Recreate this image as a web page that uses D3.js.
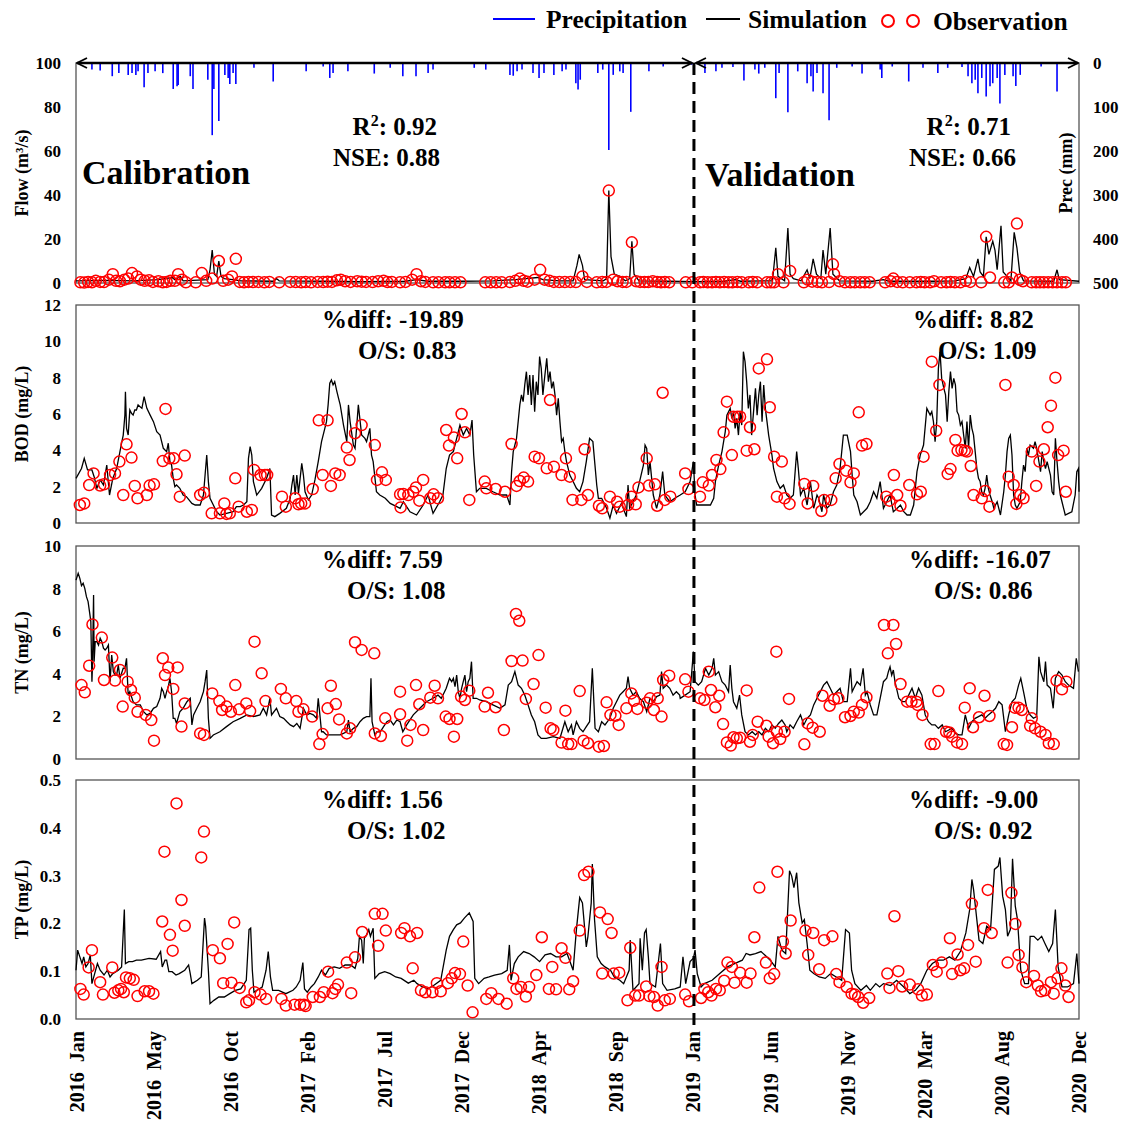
<!DOCTYPE html>
<html>
<head>
<meta charset="utf-8">
<script src="https://cdn.jsdelivr.net/npm/d3@7"></script>
<style>
  body { margin: 0; background: #fff; }
  svg text { font-family: "Liberation Serif", "Times New Roman", serif; font-weight: bold; fill: #000; }
</style>
</head>
<body>
<div id="chart"></div>
<script>
// all series are [day since 2016-01-01, value]
var xTickLabels = ["2016  Jan", "2016  May", "2016  Oct", "2017  Feb", "2017  Jul", "2017  Dec", "2018  Apr",
  "2018  Sep", "2019  Jan", "2019  Jun", "2019  Nov", "2020  Mar", "2020  Aug", "2020  Dec"];
var tickStepDays = 140.4;
var lastDay = 1826;
var splitDay = 1125; // calibration | validation

// daily precipitation (mm)
var precip = [[29,15],[44,17],[66,30],[78,23],[95,27],[102,23],[109,27],[113,19],[124,55],[131,23],[144,19],[158,23],
  [177,59],[184,53],[186,50],[208,30],[213,59],[240,38],[248,164],[251,59],[260,132],[271,27],[277,34],[280,48],
  [286,23],[291,48],[324,11],[359,42],[419,19],[450,8],[462,34],[468,23],[495,19],[543,24],[572,11],[595,30],
  [619,30],[641,23],[650,15],[725,11],[746,15],[790,27],[796,29],[803,19],[812,15],[832,23],[843,34],[852,23],
  [870,27],[885,19],[892,15],[910,46],[914,60],[918,38],[950,23],[959,15],[970,198],[978,27],[990,19],[996,23],
  [1010,111],[1043,19],[1069,8],[1121,4],[1145,23],[1165,19],[1176,11],[1196,9],[1216,40],[1236,15],[1243,24],
  [1254,11],[1274,80],[1280,23],[1296,112],[1314,19],[1331,46],[1338,30],[1342,65],[1349,23],[1360,69],[1371,130],
  [1385,11],[1413,8],[1431,24],[1464,15],[1467,34],[1486,8],[1516,42],[1542,11],[1569,23],[1587,11],[1613,9],
  [1624,30],[1631,46],[1637,38],[1642,69],[1649,34],[1657,76],[1664,53],[1669,46],[1677,34],[1682,92],[1691,27],
  [1706,30],[1711,52],[1719,27],[1757,8],[1786,65]];

// flow (m3/s)
var flowSim = [[0,1],[60,1.2],[105,1],[150,1.5],[175,2.5],[180,1.5],[190,3],[195,1],[240,1.5],[244,6],[248,15],[252,4],
  [256,3],[260,10],[264,3],[270,2],[285,1.5],[300,1],[360,0.8],[365,2],[370,1],[450,0.8],[520,0.6],[600,0.8],[620,1.5],
  [640,0.8],[700,0.8],[760,1],[800,1.5],[820,2],[840,2.5],[850,1.5],[880,1],[905,1],[912,8],[916,13],[922,8],[926,1.5],
  [960,1],[966,2],[970,42],[974,12],[980,4],[990,3],[1000,1],[1008,2],[1012,19],[1016,4],[1025,1],[1080,0.8],[1126,0.6],
  [1180,0.8],[1200,1.5],[1210,0.8],[1268,1],[1274,16],[1278,3],[1290,1],[1296,25],[1300,4],[1306,2],[1320,1],[1331,6],
  [1336,2],[1342,11],[1348,4],[1356,2],[1360,15],[1365,4],[1373,25],[1378,4],[1390,1],[1450,0.8],[1470,1.5],[1480,0.8],
  [1560,0.8],[1600,1],[1620,2],[1627,7],[1634,3],[1642,11],[1646,5],[1652,3],[1657,21],[1662,13],[1669,19],[1673,15],
  [1677,6],[1684,26],[1688,5],[1695,3],[1702,1],[1708,23],[1713,16],[1718,5],[1725,1],[1780,0.8],[1786,6],[1790,1.5],[1826,0.8]];
var flowObs = [[8,0.3],[15,0.2],[22,0.5],[29,0.3],[36,1],[44,0.5],[51,0.4],[60,1.5],[67,4],[73,1],[80,0.8],[88,1.5],
  [95,2],[102,4.5],[111,3],[118,1.5],[125,1],[133,1.2],[140,0.5],[150,0.8],[158,0.3],[165,0.5],[172,1],[180,1],[186,4],
  [193,1.5],[200,0.3],[218,0.3],[229,4.5],[237,1],[248,2],[260,10],[268,1],[277,1.5],[284,3],[291,11],[298,0.5],[306,0.3],
  [314,0.5],[322,0.4],[332,0.5],[343,0.3],[352,0.5],[370,0.3],[390,0.5],[400,0.4],[410,0.3],[418,0.4],[428,0.3],[440,0.5],
  [450,0.4],[458,0.6],[466,0.5],[475,1.2],[482,1.5],[490,0.8],[500,0.5],[512,0.8],[520,0.6],[528,0.5],[540,0.4],[550,0.8],
  [560,1],[567,0.4],[575,0.5],[590,0.3],[600,0.5],[612,1.5],[620,4],[628,0.8],[636,0.5],[650,0.3],[660,0.3],[672,0.3],
  [680,0.3],[690,0.3],[700,0.3],[745,0.3],[755,0.3],[765,0.3],[775,0.3],[790,0.4],[800,1],[808,2],[815,1],[822,0.6],
  [835,1.5],[845,6],[853,1.5],[862,1],[870,0.5],[880,0.4],[890,0.4],[900,0.5],[910,0.4],[922,3],[930,0.5],[948,0.3],
  [958,0.4],[966,0.5],[970,42],[978,1.5],[986,0.8],[995,0.5],[1002,0.5],[1012,18.5],[1020,0.8],[1027,0.5],[1035,0.4],
  [1042,0.4],[1050,0.8],[1058,0.5],[1065,0.3],[1072,0.4],[1080,0.3],[1110,0.3],[1122,0.3],[1136,0.3],[1142,0.4],
  [1150,0.3],[1158,0.3],[1165,0.5],[1172,0.3],[1180,0.4],[1188,0.3],[1195,0.3],[1204,0.4],[1212,0.3],[1225,0.3],
  [1232,0.5],[1240,0.3],[1258,0.3],[1265,0.3],[1271,0.3],[1278,4],[1288,0.3],[1300,5.5],[1325,0.3],[1332,1.5],[1340,0.6],
  [1350,0.5],[1358,0.3],[1371,0.4],[1378,8.5],[1380,4],[1390,0.8],[1400,0.3],[1410,0.3],[1418,0.3],[1428,0.3],[1436,0.3],
  [1445,0.3],[1473,0.3],[1483,0.8],[1488,2],[1495,0.5],[1505,0.3],[1518,0.3],[1530,0.3],[1538,0.4],[1545,0.3],[1555,0.3],
  [1562,0.8],[1575,0.3],[1585,0.3],[1592,0.4],[1600,0.3],[1610,0.3],[1620,1],[1628,0.5],[1648,0.3],[1657,21],[1664,2.5],
  [1690,0.3],[1698,0.3],[1704,2.5],[1713,27],[1718,1.5],[1724,0.8],[1740,0.3],[1748,0.3],[1755,0.3],[1762,0.3],[1770,0.3],
  [1778,0.3],[1786,0.3],[1795,0.3],[1802,0.3]];

// BOD (mg/L)
var bodSim = [[0,2.46],[10,3.0],[15,3.56],[21,2.92],[29,2.92],[33,2.55],[38,1.91],[44,2.37],[50,2.09],[56,3.19],[61,1.54],
  [67,2.46],[74,3.0],[80,3.93],[83,4.39],[86,4.84],[89,5.94],[90,7.23],[92,5.21],[95,4.84],[98,6.22],[101,6.04],[104,5.94],
  [107,6.22],[110,6.22],[113,6.5],[120,6.31],[124,6.95],[129,6.31],[135,5.94],[141,5.58],[147,5.03],[153,4.84],[159,4.11],
  [165,3.93],[168,4.39],[171,3.38],[174,3.19],[177,2.46],[180,2.0],[183,2.09],[189,1.91],[195,1.54],[201,1.45],[211,1.08],
  [217,0.99],[226,0.99],[232,1.54],[235,2.64],[238,3.74],[241,2.28],[244,1.36],[250,0.99],[256,0.62],[262,0.44],[274,0.53],
  [286,0.62],[292,0.9],[299,0.9],[305,0.99],[311,1.17],[314,3.56],[317,4.2],[320,3.74],[323,2.28],[329,1.54],[338,1.91],
  [347,2.46],[353,3.0],[356,0.44],[362,0.35],[371,0.53],[383,0.81],[390,1.36],[393,2.09],[396,2.64],[399,1.54],[402,2.64],
  [405,1.63],[411,3.28],[414,2.64],[417,1.72],[423,1.27],[429,1.54],[435,2.37],[441,3.38],[447,4.48],[453,5.21],[456,5.58],
  [459,6.5],[462,7.69],[465,7.87],[468,7.6],[471,7.78],[475,7.23],[478,6.86],[481,6.5],[487,5.39],[493,4.48],[496,6.5],
  [499,5.58],[505,4.29],[508,4.11],[514,6.5],[520,4.84],[526,4.66],[529,4.48],[535,5.21],[538,3.74],[541,3.38],[547,1.72],
  [553,1.54],[563,1.36],[572,1.08],[584,0.9],[590,0.81],[596,1.17],[608,0.62],[620,0.44],[632,0.99],[641,1.54],[650,0.53],
  [662,1.17],[668,1.54],[674,3.0],[680,3.74],[687,3.93],[693,4.66],[699,5.39],[705,4.84],[711,5.21],[717,4.84],[721,5.67],
  [724,3.74],[729,1.72],[735,1.91],[747,1.91],[759,1.72],[772,1.54],[784,1.54],[790,0.99],[793,2.83],[796,3.93],[802,4.66],
  [808,6.5],[811,7.05],[814,6.68],[817,7.6],[820,8.33],[823,7.05],[826,8.15],[829,6.5],[832,8.15],[835,6.13],[838,7.78],
  [841,7.05],[844,9.16],[847,8.51],[850,7.05],[853,7.96],[857,9.06],[860,7.78],[863,8.33],[866,7.41],[869,7.78],[872,7.05],
  [875,5.94],[878,6.86],[881,5.58],[884,4.48],[887,4.66],[890,3.93],[893,3.38],[899,2.64],[905,2.28],[911,1.91],[917,1.72],
  [923,2.28],[929,3.38],[935,4.66],[941,4.48],[948,2.09],[951,1.36],[957,1.36],[966,0.81],[972,0.26],[978,0.99],[984,0.53],
  [993,1.08],[1002,0.35],[1005,2.09],[1008,0.81],[1014,1.17],[1020,1.54],[1026,2.28],[1033,3.19],[1036,4.29],[1039,4.11],
  [1042,2.64],[1045,3.38],[1051,1.54],[1057,0.81],[1063,1.54],[1068,2.83],[1072,1.54],[1081,1.17],[1090,1.36],
  [1100,1.54],[1109,1.72],[1118,2.28],[1124,3.38],[1127,1.54],[1130,0.99],[1142,0.99],[1155,0.99],[1161,1.36],[1164,2.28],
  [1170,3.19],[1176,3.93],[1182,5.03],[1185,5.94],[1191,6.31],[1194,5.76],[1197,6.13],[1200,5.21],[1203,5.76],[1206,4.84],
  [1209,6.13],[1212,5.39],[1215,9.43],[1218,8.88],[1221,7.78],[1224,6.31],[1227,7.05],[1230,4.84],[1234,6.31],[1237,7.41],
  [1240,5.94],[1243,7.05],[1246,7.78],[1249,5.58],[1252,7.6],[1255,6.31],[1258,5.58],[1261,4.84],[1264,4.29],[1267,3.74],
  [1270,3.0],[1276,2.28],[1282,1.91],[1288,2.09],[1294,1.54],[1300,1.36],[1306,1.54],[1312,3.93],[1315,3.0],[1319,1.54],
  [1325,1.91],[1331,0.99],[1337,2.28],[1343,0.81],[1349,1.54],[1352,1.36],[1358,0.62],[1361,1.54],[1367,0.81],[1373,0.99],
  [1379,1.72],[1385,2.09],[1391,3.0],[1397,4.84],[1404,4.84],[1410,3.93],[1413,2.64],[1416,1.54],[1422,1.17],[1428,0.44],
  [1440,0.81],[1446,1.17],[1452,1.72],[1458,1.36],[1464,2.28],[1470,0.81],[1476,1.17],[1482,1.54],[1488,0.62],[1495,0.81],
  [1501,0.99],[1507,0.62],[1513,0.44],[1519,0.44],[1525,0.99],[1531,2.83],[1537,3.74],[1543,4.29],[1549,6.31],[1555,5.94],
  [1558,6.13],[1561,5.58],[1564,4.48],[1567,5.58],[1570,8.51],[1573,9.43],[1576,7.96],[1580,7.41],[1583,7.05],[1586,5.58],
  [1589,7.23],[1592,8.33],[1595,7.41],[1598,7.96],[1601,7.6],[1604,6.13],[1607,5.94],[1610,5.39],[1613,5.58],[1616,4.84],
  [1619,4.11],[1622,5.58],[1625,4.11],[1628,5.94],[1631,5.21],[1634,4.84],[1637,3.93],[1640,3.0],[1643,2.46],[1646,2.28],
  [1649,1.72],[1652,1.54],[1655,1.91],[1658,2.64],[1661,1.91],[1664,1.54],[1668,1.17],[1671,0.81],[1674,0.99],[1677,1.17],
  [1680,0.81],[1683,0.44],[1689,1.72],[1692,2.64],[1695,3.93],[1698,4.66],[1701,4.84],[1704,3.74],[1707,1.54],[1710,0.99],
  [1713,0.81],[1719,1.17],[1722,2.28],[1725,3.19],[1728,2.83],[1731,4.11],[1734,3.74],[1737,4.29],[1743,4.11],[1746,4.48],
  [1749,4.11],[1756,2.83],[1759,3.93],[1762,3.38],[1765,3.0],[1768,3.38],[1774,2.64],[1777,1.72],[1780,1.54],[1783,4.66],
  [1786,3.38],[1789,2.28],[1792,1.54],[1795,1.17],[1798,0.81],[1801,0.44],[1807,0.53],[1813,0.62],[1819,1.54],[1822,2.83],
  [1825,3.0],[1826,1.72]];
var bodObs = [[7,0.99],[15,1.08],[24,2.09],[32,2.73],[44,2.06],[51,2.13],[62,2.64],[71,2.73],[79,3.38],[86,1.54],[92,4.33],
  [101,3.6],[107,2.04],[112,1.36],[129,1.54],[134,2.06],[142,2.13],[158,3.41],[163,6.28],[170,3.56],[178,3.56],[183,2.68],
  [189,1.45],[198,3.71],[226,1.54],[233,1.67],[247,0.53],[262,0.53],[270,1.08],[274,0.5],[280,0.53],[290,2.46],[296,0.9],
  [311,0.62],[320,0.72],[324,2.92],[336,2.64],[344,2.64],[348,2.64],[375,1.45],[382,0.9],[399,1.36],[405,1.03],[410,1.08],
  [417,1.08],[431,1.87],[442,5.65],[449,2.64],[458,5.65],[464,2.04],[472,2.73],[480,2.64],[493,4.15],[498,3.47],[508,4.94],
  [520,5.39],[544,4.29],[548,2.37],[557,2.79],[564,2.37],[590,1.58],[591,0.86],[596,1.6],[605,1.54],[614,1.72],[619,1.96],
  [625,1.23],[632,2.37],[645,1.36],[651,1.58],[659,1.36],[674,5.12],[679,4.26],[688,4.7],[694,3.56],[702,6.0],[708,4.99],
  [716,1.27],[744,2.28],[747,1.91],[764,1.87],[781,1.72],[793,4.35],[802,2.04],[808,2.31],[815,2.5],[823,2.28],[835,3.65],
  [843,3.56],[857,3.01],[863,6.77],[870,3.1],[884,2.64],[892,3.56],[899,2.55],[904,1.27],[920,1.27],[926,4.06],[932,1.54],
  [952,0.95],[958,0.81],[972,1.45],[985,1.17],[990,0.9],[1005,0.99],[1011,1.45],[1019,1.03],[1024,1.96],[1039,3.56],
  [1043,2.06],[1054,2.13],[1058,0.95],[1068,7.17],[1072,1.27],[1082,1.45],[1109,2.73],[1115,1.87],[1136,1.45],[1141,2.24],
  [1152,2.06],[1158,2.64],[1166,3.47],[1173,2.97],[1179,4.99],[1185,6.68],[1194,3.74],[1197,5.85],[1204,5.85],[1209,5.85],
  [1221,3.98],[1227,5.27],[1235,4.06],[1243,8.51],[1258,9.01],[1263,6.37],[1271,3.65],[1276,1.45],[1285,3.38],[1290,1.36],
  [1299,1.05],[1326,2.15],[1332,1.08],[1342,2.04],[1357,0.66],[1362,1.27],[1375,1.27],[1383,2.46],[1390,3.25],[1402,2.88],
  [1410,2.24],[1416,2.73],[1425,6.09],[1431,4.26],[1439,4.35],[1475,1.45],[1481,1.23],[1489,2.64],[1495,1.54],[1501,0.95],
  [1517,2.09],[1531,1.58],[1538,1.72],[1543,3.65],[1558,8.88],[1566,5.08],[1572,7.6],[1587,2.7],[1592,2.97],[1601,4.57],
  [1605,3.98],[1612,4.02],[1618,3.98],[1622,3.93],[1629,3.14],[1634,1.54],[1649,1.36],[1655,1.76],[1663,0.9],[1692,7.6],
  [1698,2.55],[1707,2.09],[1712,1.05],[1719,1.54],[1725,1.36],[1740,3.93],[1748,2.04],[1754,3.38],[1762,4.06],[1769,5.27],
  [1775,6.46],[1783,8.0],[1788,3.74],[1798,3.98],[1802,1.72]];

// TN (mg/L)
var tnSim = [[0,8.4],[4,8.72],[7,8.48],[10,8.14],[13,8.25],[16,8.01],[19,7.62],[22,7.39],[25,6.84],[27,6.45],[29,3.63],
  [30,4.41],[32,7.7],[33,4.57],[35,5.51],[38,5.51],[41,5.35],[44,5.67],[47,5.51],[50,5.2],[53,5.12],[56,5.2],[59,5.35],
  [62,3.63],[65,4.88],[68,4.1],[71,3.94],[74,3.94],[77,4.41],[80,3.79],[86,4.26],[89,4.26],[92,4.73],[95,3.0],[98,3.16],
  [104,2.69],[110,2.54],[117,2.54],[123,2.22],[129,2.07],[135,2.14],[141,2.38],[147,2.46],[153,2.85],[156,3.32],[159,3.16],
  [162,2.85],[165,3.16],[168,3.4],[171,3.79],[174,3.16],[177,1.91],[180,1.91],[183,1.67],[189,2.22],[195,2.38],[202,2.69],
  [208,2.85],[211,1.6],[214,2.07],[220,2.38],[226,2.69],[232,3.16],[235,3.63],[238,4.18],[241,1.91],[244,0.97],[250,1.13],
  [262,1.28],[274,1.52],[286,1.75],[299,1.91],[311,2.07],[323,1.99],[335,2.07],[341,2.38],[347,2.07],[353,2.85],[356,2.07],
  [365,2.38],[371,1.99],[378,1.91],[384,1.75],[390,1.6],[396,1.52],[402,1.67],[408,1.44],[414,2.38],[420,2.07],[426,2.14],
  [432,2.07],[438,1.91],[441,2.85],[444,2.07],[447,1.28],[450,1.28],[456,1.13],[469,1.13],[481,1.13],[493,1.28],[496,1.83],
  [499,1.28],[505,1.44],[511,1.52],[517,1.75],[523,1.91],[529,1.99],[535,1.99],[537,3.79],[539,1.75],[544,1.13],[548,1.28],
  [554,1.28],[560,1.52],[566,1.75],[572,1.83],[578,1.6],[584,1.83],[590,1.75],[595,1.28],[602,1.6],[614,2.07],[626,2.38],
  [638,2.69],[650,2.85],[659,3.0],[665,2.85],[671,3.16],[674,3.32],[680,3.79],[684,3.63],[687,3.79],[690,3.4],[693,3.94],
  [696,3.16],[699,2.85],[702,3.32],[705,3.63],[708,3.94],[711,3.16],[714,3.63],[717,3.79],[720,4.57],[723,2.85],[729,2.85],
  [735,2.77],[747,2.69],[759,2.54],[772,2.38],[781,2.54],[787,3.47],[793,3.63],[799,4.1],[805,3.47],[811,3.32],[817,3.0],
  [823,2.54],[829,2.07],[835,1.75],[841,1.13],[847,0.97],[856,0.97],[869,1.05],[881,0.97],[890,1.75],[896,1.28],[902,1.6],
  [905,1.13],[911,1.75],[917,1.44],[923,1.28],[929,1.52],[935,1.75],[940,4.26],[945,1.44],[951,1.28],[957,1.75],[963,1.6],
  [972,1.91],[978,2.38],[984,2.69],[990,3.0],[996,3.16],[1002,3.32],[1005,3.87],[1008,3.32],[1014,3.0],[1020,3.16],
  [1026,2.85],[1033,2.69],[1039,2.22],[1045,2.85],[1051,2.69],[1057,2.93],[1063,3.0],[1066,4.1],[1069,3.32],[1075,3.47],
  [1081,3.32],[1087,3.0],[1093,3.16],[1099,3.0],[1100,2.85],[1109,3.0],[1118,3.16],[1124,5.04],[1127,3.63],[1133,3.47],
  [1139,3.63],[1146,4.26],[1152,3.94],[1158,4.26],[1161,4.73],[1164,3.94],[1170,4.1],[1176,3.63],[1182,3.47],[1188,3.16],
  [1191,4.41],[1194,3.32],[1197,2.69],[1203,2.38],[1208,3.0],[1212,2.07],[1218,1.28],[1224,1.13],[1231,1.28],[1237,1.13],
  [1243,1.28],[1249,1.13],[1255,1.44],[1261,1.28],[1267,1.6],[1273,1.44],[1279,1.67],[1285,1.83],[1291,1.6],[1294,1.28],
  [1300,1.6],[1306,1.44],[1312,1.75],[1319,2.07],[1325,1.6],[1331,1.91],[1337,2.07],[1343,2.54],[1349,2.85],[1355,3.16],
  [1361,3.47],[1367,3.63],[1373,3.32],[1379,3.0],[1385,3.16],[1391,3.32],[1397,2.69],[1404,2.69],[1410,4.26],[1413,3.16],
  [1416,3.32],[1422,3.63],[1428,3.47],[1433,4.26],[1437,3.0],[1440,3.16],[1446,2.54],[1452,2.07],[1458,2.07],[1464,2.85],
  [1470,3.63],[1476,3.79],[1479,4.1],[1482,4.33],[1485,3.94],[1488,4.18],[1491,3.63],[1498,2.85],[1504,2.69],[1510,2.69],
  [1516,3.0],[1522,3.32],[1528,2.85],[1534,3.32],[1540,3.0],[1546,2.07],[1552,1.75],[1558,1.6],[1564,1.6],[1570,1.44],
  [1577,1.6],[1583,1.28],[1589,1.36],[1595,1.44],[1601,1.2],[1607,1.13],[1613,1.13],[1619,2.07],[1625,1.44],[1631,1.75],
  [1637,1.91],[1643,1.99],[1649,2.07],[1655,1.91],[1661,2.07],[1668,2.22],[1674,2.38],[1680,2.69],[1686,2.54],[1692,1.28],
  [1698,2.07],[1704,2.69],[1710,2.85],[1716,3.47],[1720,3.79],[1725,3.16],[1731,2.38],[1737,2.07],[1743,1.91],[1749,1.99],
  [1753,4.8],[1756,4.1],[1762,3.63],[1765,4.57],[1768,3.47],[1774,3.32],[1779,2.38],[1783,3.79],[1789,4.1],[1795,3.94],
  [1801,3.63],[1807,3.47],[1816,3.32],[1821,4.73],[1825,4.1]];
var tnObs = [[10,3.47],[16,3.13],[24,4.38],[30,6.32],[47,5.7],[51,3.71],[66,4.76],[71,3.68],[80,4.18],[85,2.46],[94,3.63],
  [100,3.24],[107,2.88],[112,2.22],[127,2.07],[137,1.83],[142,0.86],[158,4.73],[162,3.94],[168,4.29],[177,3.29],[185,4.3],
  [192,1.52],[198,2.61],[226,1.2],[233,1.13],[248,3.08],[261,2.72],[266,2.3],[274,2.46],[282,2.22],[290,3.47],[297,2.33],
  [310,2.61],[317,2.25],[325,5.51],[338,4.02],[345,2.72],[373,3.29],[382,2.85],[401,2.72],[405,2.22],[414,2.33],[430,1.99],
  [443,0.7],[449,1.17],[458,2.38],[464,3.44],[473,2.58],[479,1.86],[493,1.2],[499,1.44],[508,5.48],[520,5.12],[543,4.96],
  [544,1.2],[555,1.08],[563,1.91],[590,2.1],[590,3.16],[603,0.86],[609,1.6],[619,3.47],[625,2.57],[632,1.36],[645,2.88],
  [653,3.44],[659,2.85],[673,1.99],[680,1.88],[688,1.05],[694,1.88],[701,2.93],[708,2.77],[716,3.21],[744,2.46],[750,3.11],
  [764,2.43],[779,1.36],[793,4.6],[801,6.81],[807,6.49],[813,4.62],[819,2.82],[833,3.52],[842,4.88],[855,2.41],[864,1.44],
  [869,1.36],[884,0.77],[891,2.27],[896,0.7],[902,0.7],[917,3.19],[924,0.86],[932,0.74],[952,0.58],[961,0.61],[966,2.66],
  [973,2.07],[982,2.03],[988,1.6],[1002,2.38],[1011,3.08],[1016,2.74],[1022,2.35],[1039,2.64],[1045,2.85],[1052,2.3],
  [1059,2.85],[1066,1.99],[1069,3.71],[1080,3.91],[1109,3.74],[1115,3.16],[1136,2.85],[1144,2.77],[1152,4.1],[1156,3.24],
  [1164,2.43],[1171,2.97],[1178,1.64],[1185,0.78],[1192,0.63],[1197,1.02],[1203,0.97],[1209,1.0],[1221,3.22],[1227,0.81],
  [1232,1.13],[1241,1.75],[1257,1.56],[1261,1.05],[1269,0.74],[1275,5.04],[1276,1.28],[1282,0.94],[1290,1.28],[1298,2.82],
  [1326,0.69],[1332,1.67],[1341,1.47],[1354,1.28],[1359,2.97],[1372,2.5],[1380,2.8],[1388,2.85],[1400,1.96],[1410,2.02],
  [1416,2.22],[1425,2.18],[1431,2.54],[1439,2.9],[1471,6.29],[1478,4.96],[1488,6.29],[1493,5.4],[1501,3.52],[1513,2.69],
  [1521,2.69],[1530,2.69],[1532,2.54],[1541,2.07],[1556,0.7],[1563,0.7],[1570,3.19],[1584,1.28],[1590,1.25],[1595,1.05],
  [1604,0.78],[1613,0.7],[1618,2.41],[1627,3.32],[1633,1.49],[1644,1.96],[1654,2.97],[1663,2.02],[1689,0.7],[1695,0.66],
  [1704,1.49],[1709,2.41],[1716,2.41],[1722,2.3],[1737,1.56],[1740,1.91],[1746,1.44],[1756,1.28],[1765,1.13],[1771,0.74],
  [1780,0.7],[1785,3.68],[1795,3.27],[1803,3.63]];

// TP (mg/L)
var tpSim = [[0,0.102],[3,0.144],[7,0.13],[11,0.116],[14,0.13],[18,0.109],[22,0.116],[26,0.134],[29,0.074],[34,0.095],
  [39,0.116],[44,0.102],[51,0.092],[57,0.102],[62,0.088],[67,0.095],[77,0.102],[83,0.109],[88,0.229],[90,0.116],[96,0.12],
  [103,0.12],[110,0.123],[119,0.123],[133,0.127],[146,0.125],[154,0.141],[157,0.109],[162,0.123],[165,0.123],[169,0.099],
  [175,0.099],[182,0.092],[188,0.095],[198,0.102],[205,0.113],[208,0.095],[211,0.074],[221,0.081],[228,0.088],[234,0.211],
  [236,0.194],[241,0.102],[244,0.032],[251,0.039],[260,0.046],[270,0.046],[280,0.053],[290,0.06],[300,0.063],[310,0.081],
  [315,0.187],[318,0.19],[321,0.102],[324,0.056],[329,0.06],[339,0.067],[346,0.102],[350,0.141],[354,0.088],[358,0.06],
  [369,0.06],[382,0.053],[395,0.06],[401,0.067],[408,0.081],[413,0.118],[416,0.063],[421,0.056],[428,0.067],[434,0.074],
  [441,0.088],[447,0.102],[454,0.092],[461,0.106],[470,0.109],[480,0.106],[490,0.113],[500,0.113],[508,0.106],[513,0.127],
  [516,0.173],[520,0.165],[523,0.116],[525,0.169],[529,0.176],[533,0.187],[536,0.173],[541,0.19],[544,0.085],[552,0.095],
  [562,0.099],[572,0.095],[582,0.088],[592,0.085],[605,0.075],[615,0.081],[621,0.074],[631,0.067],[641,0.063],[651,0.07],
  [664,0.081],[674,0.144],[680,0.173],[687,0.187],[693,0.197],[700,0.201],[707,0.211],[716,0.222],[723,0.204],[726,0.085],
  [733,0.074],[743,0.085],[752,0.088],[762,0.092],[775,0.095],[785,0.102],[789,0.155],[792,0.081],[798,0.116],[805,0.13],
  [815,0.141],[825,0.137],[834,0.13],[844,0.12],[854,0.134],[864,0.137],[874,0.13],[884,0.13],[894,0.137],[905,0.102],
  [911,0.187],[917,0.254],[922,0.243],[929,0.151],[932,0.173],[938,0.243],[940,0.324],[944,0.208],[949,0.13],[956,0.116],
  [963,0.109],[973,0.102],[980,0.088],[990,0.081],[997,0.074],[1007,0.102],[1009,0.165],[1014,0.06],[1025,0.074],
  [1027,0.169],[1031,0.102],[1035,0.18],[1038,0.187],[1042,0.13],[1045,0.074],[1055,0.067],[1064,0.158],[1068,0.074],
  [1076,0.06],[1090,0.063],[1100,0.067],[1105,0.13],[1110,0.074],[1118,0.12],[1124,0.127],[1127,0.144],[1131,0.095],
  [1138,0.067],[1144,0.074],[1158,0.081],[1172,0.095],[1186,0.109],[1199,0.116],[1213,0.123],[1220,0.137],[1227,0.134],
  [1237,0.137],[1247,0.141],[1254,0.134],[1264,0.123],[1273,0.109],[1278,0.173],[1285,0.144],[1292,0.137],[1299,0.31],
  [1303,0.299],[1307,0.275],[1312,0.306],[1316,0.243],[1322,0.201],[1326,0.208],[1331,0.158],[1336,0.102],[1343,0.095],
  [1353,0.088],[1364,0.085],[1374,0.095],[1384,0.088],[1394,0.081],[1401,0.187],[1408,0.18],[1412,0.102],[1418,0.074],
  [1429,0.06],[1439,0.07],[1446,0.06],[1456,0.074],[1463,0.067],[1470,0.074],[1483,0.07],[1494,0.081],[1507,0.067],
  [1518,0.053],[1528,0.06],[1538,0.074],[1549,0.102],[1559,0.116],[1569,0.123],[1579,0.123],[1590,0.13],[1600,0.123],
  [1610,0.141],[1620,0.18],[1627,0.229],[1631,0.292],[1634,0.271],[1638,0.229],[1644,0.165],[1651,0.158],[1658,0.194],
  [1665,0.187],[1672,0.313],[1679,0.32],[1682,0.338],[1687,0.257],[1692,0.229],[1696,0.173],[1701,0.187],[1705,0.335],
  [1710,0.236],[1714,0.208],[1720,0.102],[1727,0.074],[1734,0.074],[1737,0.173],[1744,0.173],[1751,0.165],[1758,0.173],
  [1764,0.158],[1771,0.141],[1778,0.158],[1783,0.229],[1788,0.109],[1795,0.067],[1805,0.067],[1816,0.074],[1822,0.137],
  [1826,0.074]];
var tpObs = [[8,0.063],[14,0.051],[23,0.108],[29,0.144],[44,0.077],[49,0.051],[66,0.108],[70,0.055],[77,0.06],[82,0.063],
  [87,0.056],[91,0.087],[98,0.085],[105,0.082],[112,0.048],[125,0.058],[133,0.058],[141,0.053],[157,0.204],[161,0.35],
  [171,0.176],[176,0.143],[183,0.451],[192,0.249],[198,0.195],[228,0.338],[233,0.392],[249,0.144],[262,0.127],[268,0.075],
  [276,0.157],[283,0.076],[288,0.202],[298,0.065],[310,0.035],[315,0.039],[325,0.056],[336,0.051],[346,0.042],[374,0.042],
  [382,0.028],[398,0.03],[408,0.03],[415,0.03],[418,0.027],[431,0.046],[444,0.046],[451,0.056],[459,0.099],[467,0.054],
  [472,0.063],[477,0.072],[493,0.118],[501,0.054],[508,0.129],[521,0.182],[544,0.22],[550,0.153],[558,0.22],[564,0.185],
  [592,0.18],[598,0.19],[608,0.173],[613,0.106],[621,0.18],[628,0.06],[636,0.056],[649,0.056],[657,0.075],[664,0.058],
  [677,0.075],[684,0.085],[690,0.096],[699,0.094],[705,0.162],[713,0.07],[722,0.014],[747,0.042],[756,0.054],[769,0.042],
  [784,0.032],[796,0.085],[802,0.063],[810,0.067],[819,0.047],[825,0.067],[838,0.092],[848,0.171],[861,0.063],[867,0.109],
  [874,0.062],[884,0.148],[891,0.128],[898,0.062],[905,0.079],[917,0.185],[925,0.301],[933,0.308],[954,0.223],[958,0.095],
  [968,0.209],[975,0.18],[979,0.095],[989,0.097],[1004,0.039],[1009,0.149],[1018,0.049],[1025,0.049],[1038,0.068],
  [1044,0.048],[1052,0.046],[1059,0.028],[1066,0.109],[1072,0.039],[1081,0.042],[1109,0.051],[1116,0.037],[1138,0.044],
  [1144,0.063],[1151,0.056],[1157,0.049],[1165,0.063],[1172,0.06],[1180,0.08],[1186,0.118],[1194,0.109],[1199,0.076],
  [1209,0.097],[1221,0.076],[1228,0.095],[1235,0.171],[1244,0.275],[1256,0.118],[1263,0.085],[1271,0.094],[1277,0.308],
  [1287,0.162],[1292,0.137],[1301,0.206],[1328,0.185],[1333,0.134],[1342,0.18],[1353,0.104],[1362,0.165],[1377,0.173],
  [1384,0.094],[1390,0.077],[1403,0.067],[1412,0.053],[1418,0.051],[1424,0.046],[1433,0.034],[1444,0.044],[1477,0.095],
  [1481,0.065],[1490,0.215],[1497,0.1],[1504,0.068],[1518,0.072],[1533,0.062],[1540,0.049],[1549,0.051],[1560,0.113],
  [1567,0.099],[1576,0.118],[1591,0.169],[1595,0.094],[1605,0.135],[1610,0.102],[1617,0.106],[1624,0.155],[1631,0.241],
  [1638,0.12],[1653,0.19],[1660,0.27],[1667,0.18],[1696,0.118],[1703,0.264],[1710,0.199],[1716,0.134],[1723,0.108],
  [1730,0.077],[1744,0.09],[1751,0.07],[1757,0.058],[1764,0.06],[1775,0.077],[1780,0.053],[1787,0.085],[1794,0.106],
  [1801,0.07],[1807,0.046]];

// ---------------- drawing ----------------
var width = 1124, height = 1124;
var plotLeft = 76, plotRight = 1079;
var serif = '"Liberation Serif", "Times New Roman", serif';

var t0 = Date.UTC(2016, 0, 1);
function toDate(d) { return new Date(t0 + d * 864e5); }

var svg = d3.select("#chart").append("svg")
  .attr("width", width)
  .attr("height", height);

var x = d3.scaleUtc()
  .domain([toDate(0), toDate(lastDay)])
  .range([plotLeft, plotRight]);

var panels = [
  { sim: flowSim, obs: flowObs, top: 63, bottom: 283, max: 100, step: 20, fmt: d3.format("d"), title: "Flow (m\u00b3/s)" },
  { sim: bodSim, obs: bodObs, top: 305, bottom: 523, max: 12, step: 2, fmt: d3.format("d"), title: "BOD (mg/L)" },
  { sim: tnSim, obs: tnObs, top: 546, bottom: 759, max: 10, step: 2, fmt: d3.format("d"), title: "TN (mg/L)" },
  { sim: tpSim, obs: tpObs, top: 780, bottom: 1019, max: 0.5, step: 0.1, fmt: d3.format(".1f"), title: "TP (mg/L)" }
];

panels.forEach(function(p, i) {
  var y = d3.scaleLinear().domain([0, p.max]).range([p.bottom, p.top]);
  var g = svg.append("g");

  // frame
  g.append("rect")
    .attr("x", plotLeft).attr("y", p.top)
    .attr("width", plotRight - plotLeft).attr("height", p.bottom - p.top)
    .attr("fill", "none").attr("stroke", "#555").attr("stroke-width", 1.3);

  // y axis
  var ticks = d3.range(0, p.max + p.step / 2, p.step);
  var ax = g.append("g")
    .attr("transform", `translate(${plotLeft},0)`)
    .call(d3.axisLeft(y).tickValues(ticks).tickFormat(p.fmt).tickSize(0).tickPadding(15));
  ax.select(".domain").remove();
  ax.selectAll("text").style("font-family", serif).style("font-weight", "bold").style("font-size", "17px");

  g.append("text")
    .attr("transform", `translate(28,${(p.top + p.bottom) / 2}) rotate(-90)`)
    .attr("text-anchor", "middle")
    .style("font-size", "18px")
    .text(p.title);

  // precipitation hangs from the top of the flow panel
  if (i === 0) {
    var yp = d3.scaleLinear().domain([0, 500]).range([p.top, p.bottom]);
    g.selectAll(".prec").data(precip).enter().append("line")
      .attr("x1", d => x(toDate(d[0]))).attr("x2", d => x(toDate(d[0])))
      .attr("y1", yp(0)).attr("y2", d => yp(d[1]))
      .attr("stroke", "#0000ff").attr("stroke-width", 1.6);

    var axr = g.append("g")
      .attr("transform", `translate(${plotRight},0)`)
      .call(d3.axisRight(yp).tickValues([0, 100, 200, 300, 400, 500]).tickSize(0).tickPadding(14));
    axr.select(".domain").remove();
    axr.selectAll("text").style("font-family", serif).style("font-weight", "bold").style("font-size", "17px");

    g.append("text")
      .attr("transform", `translate(1072,${(p.top + p.bottom) / 2}) rotate(-90)`)
      .attr("text-anchor", "middle")
      .style("font-size", "18px")
      .text("Prec (mm)");
  }

  // simulation line
  g.append("path")
    .datum(p.sim)
    .attr("d", d3.line().x(d => x(toDate(d[0]))).y(d => y(d[1])))
    .attr("fill", "none").attr("stroke", "#000").attr("stroke-width", 1.3);

  // observations
  g.selectAll(".obs").data(p.obs).enter().append("circle")
    .attr("cx", d => x(toDate(d[0]))).attr("cy", d => y(d[1]))
    .attr("r", 5.5)
    .attr("fill", "none").attr("stroke", "#ff0000").attr("stroke-width", 1.5);
});

// x axis under the last panel
var tickDates = xTickLabels.map((l, i) => toDate(i * tickStepDays));
var xa = svg.append("g")
  .attr("transform", "translate(0,1019)")
  .call(d3.axisBottom(x).tickValues(tickDates).tickFormat((d, i) => xTickLabels[i]).tickSize(0));
xa.select(".domain").remove();
xa.selectAll("text")
  .attr("y", 0).attr("x", 0)
  .attr("dy", "0.35em")
  .attr("transform", "translate(0,12) rotate(-90)")
  .attr("text-anchor", "end")
  .style("font-family", serif).style("font-weight", "bold").style("font-size", "20px")
  .style("white-space", "pre");

// arrows on top of flow panel
var defs = svg.append("defs");
defs.append("marker")
  .attr("id", "arrow").attr("viewBox", "0 0 10 10")
  .attr("refX", 9).attr("refY", 5)
  .attr("markerWidth", 5).attr("markerHeight", 5)
  .attr("orient", "auto-start-reverse")
  .append("path").attr("d", "M1,1 L9,5 L1,9")
  .attr("fill", "none").attr("stroke", "#000").attr("stroke-width", 1.5);

var xs = x(toDate(splitDay));
[[plotLeft + 1, xs - 2], [xs + 2, plotRight - 1]].forEach(function(seg) {
  svg.append("line")
    .attr("x1", seg[0]).attr("x2", seg[1]).attr("y1", 63).attr("y2", 63)
    .attr("stroke", "#000").attr("stroke-width", 2.5)
    .attr("marker-start", "url(#arrow)").attr("marker-end", "url(#arrow)");
});

// calibration / validation split
svg.append("line")
  .attr("x1", xs).attr("x2", xs).attr("y1", 63).attr("y2", 1030)
  .attr("stroke", "#000").attr("stroke-width", 3).attr("stroke-dasharray", "12,7");

// annotations
function label(tx, ty, txt, size, anchor) {
  return svg.append("text").attr("x", tx).attr("y", ty)
    .attr("text-anchor", anchor || "start")
    .style("font-size", size + "px").text(txt);
}
label(82, 184, "Calibration", 34);
label(705, 186, "Validation", 34);

function r2(tx, ty, val) {
  var t = svg.append("text").attr("x", tx).attr("y", ty).attr("text-anchor", "end").style("font-size", "25px");
  t.append("tspan").text("R");
  t.append("tspan").attr("dy", -9).style("font-size", "16px").text("2");
  t.append("tspan").attr("dy", 9).text(": " + val);
}
r2(437, 135, "0.92");
label(440, 166, "NSE: 0.88", 25, "end");
r2(1011, 135, "0.71");
label(1016, 166, "NSE: 0.66", 25, "end");

label(322, 328, "%diff: -19.89", 25);
label(358, 359, "O/S: 0.83", 25);
label(913, 328, "%diff: 8.82", 25);
label(938, 359, "O/S: 1.09", 25);
label(322, 568, "%diff: 7.59", 25);
label(347, 599, "O/S: 1.08", 25);
label(909, 568, "%diff: -16.07", 25);
label(934, 599, "O/S: 0.86", 25);
label(322, 808, "%diff: 1.56", 25);
label(347, 839, "O/S: 1.02", 25);
label(909, 808, "%diff: -9.00", 25);
label(934, 839, "O/S: 0.92", 25);

// legend
var lg = svg.append("g");
lg.append("line").attr("x1", 493).attr("x2", 535).attr("y1", 19).attr("y2", 19)
  .attr("stroke", "#0000ff").attr("stroke-width", 2);
lg.append("text").attr("x", 546).attr("y", 28).style("font-size", "25.5px").text("Precipitation");
lg.append("line").attr("x1", 706).attr("x2", 740).attr("y1", 19).attr("y2", 19)
  .attr("stroke", "#000").attr("stroke-width", 2);
lg.append("text").attr("x", 748).attr("y", 28).style("font-size", "25.5px").text("Simulation");
[888, 913].forEach(function(cx) {
  lg.append("circle").attr("cx", cx).attr("cy", 21).attr("r", 6)
    .attr("fill", "none").attr("stroke", "#ff0000").attr("stroke-width", 2);
});
lg.append("text").attr("x", 933).attr("y", 30).style("font-size", "25.5px").text("Observation");
</script>
</body>
</html>
